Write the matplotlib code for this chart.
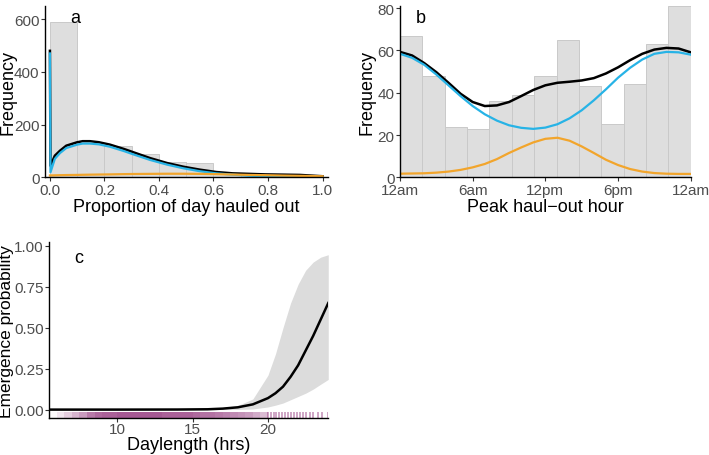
import matplotlib
matplotlib.use('Agg')
import matplotlib.pyplot as plt
import numpy as np

plt.rcParams['font.family'] = ['Liberation Sans', 'DejaVu Sans']

# --- panel a: proportion of day hauled out
prop_edges = [0.0, 0.1, 0.2, 0.3, 0.4, 0.5, 0.6, 0.7, 0.8, 0.9, 1.0]
prop_counts = [590, 130, 120, 88, 57, 55, 15, 10, 7, 5]

prop_x = [0.0, 0.002, 0.018, 0.037, 0.06, 0.10, 0.12, 0.147, 0.18, 0.22, 0.27,
          0.306, 0.367, 0.43, 0.49, 0.55, 0.61, 0.67, 0.73, 0.79, 0.856, 0.917, 1.0]
prop_total = [480, 44, 82, 101, 120, 133, 137, 137, 133, 124, 108,
              95, 73, 54, 40, 29, 20, 15, 13, 11, 10, 9, 4]
prop_comp1 = [470, 19, 70, 92, 111, 124, 128, 128, 125, 116, 100,
              87, 66, 48, 34, 23, 15, 10, 6, 4, 2.5, 1.5, 0.5]
prop_comp2 = [7, 7, 7.5, 8, 8.5, 9, 9.5, 10, 10.5, 11, 12,
              12.5, 13, 13.5, 13.5, 13, 12, 10.5, 9, 8, 6.5, 5.5, 4]

# --- panel b: peak haul-out hour
hour_edges = [0, 1.846, 3.692, 5.538, 7.385, 9.231, 11.077, 12.923,
              14.769, 16.615, 18.462, 20.308, 22.154, 24]
hour_counts = [67, 48, 24, 23, 36, 39, 48, 65, 43, 25, 44, 63, 81]

hours = [0, 1, 2, 3, 4, 5, 6, 7, 8, 9, 10, 11, 12, 13, 14, 15, 16, 17, 18,
         19, 20, 21, 22, 23, 24]
hour_total = [59.3, 57.6, 54.0, 49.7, 44.7, 39.5, 35.6, 33.7, 34.0, 35.6, 38.4,
              41.3, 43.5, 44.7, 45.2, 45.8, 46.9, 49.1, 52.0, 55.4, 58.4, 60.4,
              61.2, 60.9, 59.1]
hour_comp1 = [58.4, 56.5, 53.2, 48.6, 43.5, 38.4, 33.7, 29.8, 26.8, 24.6, 23.4,
              22.9, 23.5, 25.1, 27.9, 31.7, 36.4, 41.6, 47.1, 51.8, 55.7, 58.4,
              59.3, 59.1, 58.0]
hour_comp2 = [1.7, 1.8, 1.9, 2.2, 2.7, 3.5, 4.7, 6.3, 8.6, 11.5, 14.1,
              16.5, 18.2, 18.7, 17.3, 14.6, 11.5, 8.3, 5.8, 3.9, 2.7, 2.0,
              1.7, 1.6, 1.6]
hour_ticks = [0, 6, 12, 18, 24]
hour_labels = ['12am', '6am', '12pm', '6pm', '12am']

# --- panel c: emergence probability vs daylength
day_x = [5.5, 10, 14, 16, 17, 18, 19, 20, 20.5, 21, 21.5, 22, 22.5, 23, 23.5, 24]
emerge_fit = [0.0, 0.0, 0.0005, 0.002, 0.006, 0.014, 0.032, 0.07, 0.10, 0.14,
              0.20, 0.27, 0.36, 0.45, 0.55, 0.65]
emerge_lo = [0.0, 0.0, 0.0, 0.0, 0.0, 0.001, 0.004, 0.016, 0.027, 0.04,
             0.06, 0.08, 0.10, 0.125, 0.155, 0.184]
emerge_hi = [0.0, 0.0, 0.002, 0.006, 0.012, 0.025, 0.065, 0.21, 0.34, 0.50,
             0.65, 0.765, 0.85, 0.90, 0.93, 0.945]

rug_bins = [5.5, 6.0, 6.5, 7.0, 7.5, 8.0, 8.5, 9.0, 9.5, 10.0, 10.5, 11.0, 11.5,
            12.0, 12.5, 13.0, 13.5, 14.0, 14.5, 15.0, 15.5, 16.0, 16.5, 17.0,
            17.5, 18.0, 18.5, 19.0, 19.5]
rug_level = [0.03, 0.15, 0.3, 0.45, 0.6, 0.8, 0.9, 0.95, 0.95, 1.0, 1.0, 1.0,
             1.0, 1.0, 1.0, 0.95, 0.95, 0.95, 0.95, 0.9, 0.85, 0.85, 0.8, 0.75,
             0.7, 0.65, 0.6, 0.5, 0.4]
rug_sparse = [20.0, 20.2, 20.4, 20.55, 20.7, 20.9, 21.1, 21.3, 21.5, 21.7, 21.9,
              22.1, 22.3, 22.55, 22.8, 23.0, 23.3, 23.6, 23.95]

grey_fill = '#dedede'
grey_edge = '#c9c9c9'
blue = '#27b3e6'
orange = '#f2a52c'
purple = '#8f2f78'
tick_col = '#4d4d4d'

fig = plt.figure(figsize=(7.09, 4.56), dpi=100)
ax_a = fig.add_axes([0.0635, 0.609, 0.3991, 0.3756])
ax_b = fig.add_axes([0.5642, 0.609, 0.41, 0.3756])
ax_c = fig.add_axes([0.0695, 0.0805, 0.3935, 0.3857])


def style(ax):
    for s in ['top', 'right']:
        ax.spines[s].set_visible(False)
    for s in ['left', 'bottom']:
        ax.spines[s].set_linewidth(1.0)
    ax.tick_params(axis='both', length=3, width=0.8, color='#333333',
                   labelcolor=tick_col, labelsize=11, pad=1)


# a
ax_a.bar(prop_edges[:-1], prop_counts, width=np.diff(prop_edges), align='edge',
         color=grey_fill, edgecolor=grey_edge, linewidth=0.7)
ax_a.plot(prop_x, prop_total, color='black', lw=1.8)
ax_a.plot(prop_x, prop_comp1, color=blue, lw=1.6)
ax_a.plot(prop_x, prop_comp2, color=orange, lw=1.6)
ax_a.set_xlim(-0.018, 1.02)
ax_a.set_ylim(0, 650)
ax_a.set_xticks([0.0, 0.2, 0.4, 0.6, 0.8, 1.0])
ax_a.set_xticklabels(['0.0', '0.2', '0.4', '0.6', '0.8', '1.0'])
ax_a.set_yticks([0, 200, 400, 600])
ax_a.set_xlabel('Proportion of day hauled out', fontsize=13, labelpad=1)
ax_a.set_ylabel('Frequency', fontsize=13)
ax_a.yaxis.set_label_coords(-0.102, 0.5)
ax_a.text(0.09, 0.985, 'a', transform=ax_a.transAxes, fontsize=13, va='top')
style(ax_a)

# b
ax_b.bar(hour_edges[:-1], hour_counts, width=np.diff(hour_edges), align='edge',
         color=grey_fill, edgecolor=grey_edge, linewidth=0.7)
ax_b.plot(hours, hour_total, color='black', lw=1.8)
ax_b.plot(hours, hour_comp1, color=blue, lw=1.6)
ax_b.plot(hours, hour_comp2, color=orange, lw=1.6)
ax_b.set_xlim(0, 24)
ax_b.set_ylim(0, 81)
ax_b.set_xticks(hour_ticks)
ax_b.set_xticklabels(hour_labels)
ax_b.set_yticks([0, 20, 40, 60, 80])
ax_b.set_xlabel('Peak haul\u2212out hour', fontsize=13, labelpad=1)
ax_b.set_ylabel('Frequency', fontsize=13)
ax_b.yaxis.set_label_coords(-0.083, 0.5)
ax_b.text(0.055, 0.985, 'b', transform=ax_b.transAxes, fontsize=13, va='top')
style(ax_b)

# c
ax_c.fill_between(day_x, emerge_lo, emerge_hi, color='#dcdcdc', lw=0)
ax_c.plot(day_x, emerge_fit, color='black', lw=1.8)
rug_bottom, rug_top = -0.053, -0.017
rug_bars = ax_c.bar(rug_bins, [rug_top - rug_bottom] * len(rug_bins), width=0.5,
                    bottom=rug_bottom, align='edge', color=purple, lw=0)
for patch, lev in zip(rug_bars.patches, rug_level):
    patch.set_alpha(lev * 0.8)
ax_c.vlines(rug_sparse, rug_bottom, rug_top, color=purple, lw=1.2, alpha=0.5)
ax_c.set_xlim(5.5, 24)
ax_c.set_ylim(rug_bottom, 1.02)
ax_c.set_xticks([10, 15, 20])
ax_c.set_yticks([0, 0.25, 0.5, 0.75, 1.0])
ax_c.set_yticklabels(['0.00', '0.25', '0.50', '0.75', '1.00'])
ax_c.set_xlabel('Daylength (hrs)', fontsize=13, labelpad=0)
ax_c.set_ylabel('Emergence probability', fontsize=12.5)
ax_c.yaxis.set_label_coords(-0.125, 0.5)
ax_c.text(0.09, 0.965, 'c', transform=ax_c.transAxes, fontsize=13, va='top')
style(ax_c)
ax_c.tick_params(axis='x', pad=0)

fig.savefig('out.png', dpi=100)
